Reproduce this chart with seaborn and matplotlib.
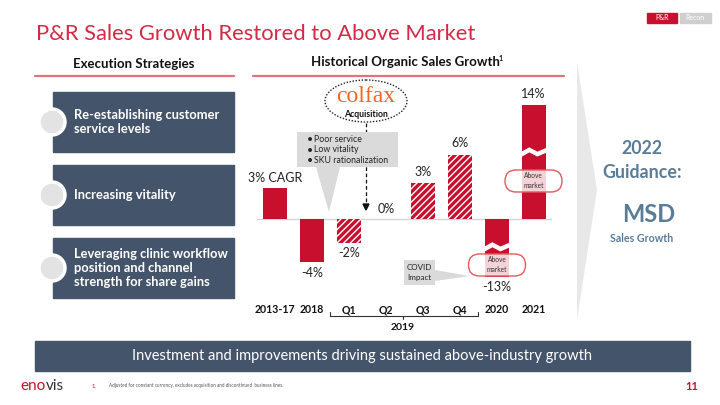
import numpy as np
import pandas as pd
import matplotlib
matplotlib.use("Agg")
import matplotlib.pyplot as plt
import seaborn as sns
from matplotlib.patches import Rectangle, FancyBboxPatch, Ellipse, Polygon, Circle

# ---------------- data ----------------
categories = ["2013-17", "2018", "Q1", "Q2", "Q3", "Q4", "2020", "2021"]
growth = [3.0, -4.0, -2.2, 0.0, 3.4, 6.1, -13.0, 14.0]
value_labels = ["3% CAGR", "-4%", "-2%", "0%", "3%", "6%", "-13%", "14%"]
hatched = [False, False, True, False, True, True, False, False]
strategies = ["Re-establishing customer\nservice levels",
              "Increasing vitality",
              "Leveraging clinic workflow\nposition and channel\nstrength for share gains"]
callout_bullets = ["Poor service", "Low vitality", "SKU rationalization"]

# broken-axis display caps (bars 2020 and 2021 are drawn broken)
cap_hi, cap_lo = 10.8, -5.4

RED = "#C8102E"
SLATE = "#44546A"
STEEL = "#5B7C99"

sns.set_style("white")
plt.rcParams["font.family"] = ["Lato", "DejaVu Sans"]
plt.rcParams["hatch.linewidth"] = 1.0

W, H = 720, 405
fig = plt.figure(figsize=(W / 100, H / 100), dpi=100)

def px_axes(l, t, r, b, z):
    return fig.add_axes([l / W, (H - b) / H, (r - l) / W, (b - t) / H], zorder=z)

bg = px_axes(0, 0, W, H, 0)
bg.set_xlim(0, W); bg.set_ylim(H, 0); bg.axis("off")

# ---------------- chart ----------------
zero_px, px_per = 219.3, 10.6
ax_top, ax_bot = 90, 300
ax = px_axes(256.5, ax_top, 552.2, ax_bot, 1)
ax.patch.set_alpha(0)
df = pd.DataFrame({"cat": categories, "growth": growth})
df["shown"] = df["growth"].clip(cap_lo, cap_hi)
sns.barplot(data=df, x="cat", y="shown", color=RED, saturation=1, width=0.66, ax=ax, zorder=2)
ax.set_ylim(-(ax_bot - zero_px) / px_per, (zero_px - ax_top) / px_per)
ax.set_xlim(-0.5, len(categories) - 0.5)
for p, h in zip(ax.patches, hatched):
    p.set_linewidth(0)
    if h:
        p.set_facecolor(RED)
        p.set_edgecolor("white")
        p.set_hatch("/////")
ax.axhline(0, color="#D5D5D5", lw=1, zorder=1)
for s in ax.spines.values():
    s.set_visible(False)
ax.set_xlabel(""); ax.set_ylabel("")
ax.set_yticks([])
ax.set_xticks(range(len(categories)))
ax.set_xticklabels(categories, fontweight="bold", fontsize=7.6, color="#111111")
ax.tick_params(axis="x", length=0, pad=3)

# break marks
for i, v in enumerate(growth):
    if v > cap_hi or v < cap_lo:
        yb = 6.25 if v > 0 else -2.7
        xs = np.array([-0.4, -0.12, 0.1, 0.4]) + i
        ys = np.array([-0.25, 0.3, -0.1, 0.35]) + yb
        ax.plot(xs, ys, color="white", lw=3.2, zorder=3, solid_joinstyle="miter")

# value labels
lab_offsets = {0: 0.9, 1: -1.1, 2: -1.0, 3: 1.0, 4: 1.1, 5: 1.1, 6: -0.95, 7: 1.05}
for i, (v, lab) in enumerate(zip(df["shown"], value_labels)):
    ax.text(i, v + lab_offsets[i], lab, ha="center", va="center", fontsize=9, color="#222222", zorder=4)

# ---------------- overlay (annotations) ----------------
ov = px_axes(0, 0, W, H, 3)
ov.set_xlim(0, W); ov.set_ylim(H, 0); ov.axis("off"); ov.patch.set_alpha(0)

# Title and tags
bg.text(36, 33.5, "P&R Sales Growth Restored to Above Market", fontsize=15.8, fontweight="normal",
        color="#D42A45", va="center", ha="left")
bg.add_patch(Rectangle((647, 12.5), 30, 10.5, color=RED))
bg.text(662, 17.8, "P&R", color="white", fontsize=5, ha="center", va="center")
bg.add_patch(Rectangle((680, 12.5), 31, 10.5, color="#CFCFCF"))
bg.text(695.5, 17.8, "Recon", color="white", fontsize=5, ha="center", va="center")

# headers
bg.text(134, 63.5, "Execution Strategies", fontsize=9.5, fontweight="bold", ha="center", va="center", color="#111111")
bg.plot([35, 234], [75.5, 75.5], color="#E2707F", lw=1.6)
bg.text(405, 62.5, "Historical Organic Sales Growth", fontsize=9.5, fontweight="bold", ha="center", va="center", color="#111111")
bg.text(498.5, 58.5, "1", fontsize=5, fontweight="bold", ha="left", va="center", color="#111111")
bg.plot([253, 564], [75.5, 75.5], color="#E2707F", lw=1.6)

# strategy boxes
box_tops = [92, 165, 238]
for top, txt in zip(box_tops, strategies):
    bg.add_patch(Rectangle((53, top), 181, 60, color=SLATE))
    bg.add_patch(Circle((52, top + 30), 13, facecolor="#E3E3E3", edgecolor="white", lw=2.5, zorder=3))
    bg.text(74, top + 30, txt, color="white", fontsize=9.3, fontweight="bold", ha="left", va="center",
            linespacing=1.2, zorder=4)

# chevron
bg.add_patch(Polygon([(577, 62), (597, 190), (577, 320)], closed=True, facecolor="#E8E8E8", edgecolor="none"))

# guidance
bg.text(642, 148, "2022", color=STEEL, fontsize=12.8, fontweight="bold", ha="center", va="center")
bg.text(642, 173, "Guidance:", color=STEEL, fontsize=12.8, fontweight="bold", ha="center", va="center")
bg.text(648.5, 215, "MSD", color=STEEL, fontsize=17, fontweight="bold", ha="center", va="center")
bg.text(642, 239, "Sales Growth", color=STEEL, fontsize=7.7, fontweight="bold", ha="center", va="center")

# banner
bg.add_patch(Rectangle((35, 341), 655, 29.5, color=SLATE))
bg.text(362, 356, "Investment and improvements driving sustained above-industry growth", color="white",
        fontsize=10.5, ha="center", va="center")

# footer
eno = bg.text(20.5, 386, "eno", color=RED, fontsize=11, ha="left", va="center")
fig.canvas.draw()
bb = eno.get_window_extent(renderer=fig.canvas.get_renderer())
x_end = bb.x1  # figure pixels == data x (1 unit = 1 px)
bg.text(x_end + 0.3, 386, "vis", color="#333333", fontsize=11, ha="left", va="center")
bg.text(92, 386, "1.", color=RED, fontsize=4.2, ha="left", va="center")
bg.text(109, 386, "Adjusted for constant currency, excludes acquisition and discontinued  business lines.",
        color="#555555", fontsize=3.3, ha="left", va="center")
bg.text(698, 386, "11", color=RED, fontsize=8, fontweight="bold", ha="right", va="center")

# acquisition arrow (dashed) - behind callout
ov.plot([366, 366], [123, 204], color="#111111", lw=0.9, ls=(0, (3, 2)), zorder=1)
ov.add_patch(Polygon([(363, 204), (369, 204), (366, 210)], closed=True, color="#111111", zorder=1))

# callout box with pointer
ov.add_patch(Polygon([(297, 132), (398, 132), (398, 167), (340, 167), (329, 212), (316, 167), (297, 167)],
                     closed=True, facecolor="#DADADA", edgecolor="none", zorder=2))
for k, b in enumerate(callout_bullets):
    yy = 139.3 + k * 10.7
    ov.text(306.5, yy, "\u2022", fontsize=7.5, ha="left", va="center", color="#222222", zorder=3)
    ov.text(314, yy, b, fontsize=6.3, ha="left", va="center", color="#222222", zorder=3)

# colfax ellipse
ov.add_patch(Ellipse((366, 101), 82, 42, facecolor="white", edgecolor="#222222", ls=(0, (1, 1.2)), lw=1, zorder=4))
ov.text(366, 97, "colfax", fontsize=17, color="#F26522", family=["Liberation Serif", "DejaVu Serif"],
        ha="center", va="center", zorder=5)
ov.text(366, 114.5, "Acquisition", fontsize=6.3, fontweight="bold", color="#111111", ha="center", va="center", zorder=5)

# COVID callout
ov.add_patch(Polygon([(404, 260), (435, 260), (435, 270), (470, 276), (435, 281), (435, 285), (404, 285)],
                     closed=True, facecolor="#DADADA", edgecolor="none", zorder=2))
ov.text(419.5, 272.5, "COVID\nImpact", fontsize=5.8, ha="center", va="center", color="#222222",
        linespacing=1.5, zorder=3)

# above-market pills
for cx, cy in [(533.5, 181), (497, 265)]:
    ov.add_patch(FancyBboxPatch((cx - 28.5, cy - 11), 57, 22, boxstyle="round,pad=0,rounding_size=11",
                                facecolor=(1, 1, 1, 0.82), edgecolor="#E25A5F", lw=1, zorder=4))
    ov.text(cx, cy, "Above\nmarket", fontsize=4.8, ha="center", va="center", color="#333333",
            linespacing=1.5, zorder=5)

# 2019 bracket
ov.plot([330, 330, 478, 478], [312, 315.5, 315.5, 312], color="#333333", lw=0.8)
ov.plot([403, 403], [315.5, 319], color="#333333", lw=0.8)
ov.text(403, 327, "2019", fontsize=7.5, fontweight="bold", ha="center", va="center", color="#111111")

fig.savefig("out.png", dpi=100)
